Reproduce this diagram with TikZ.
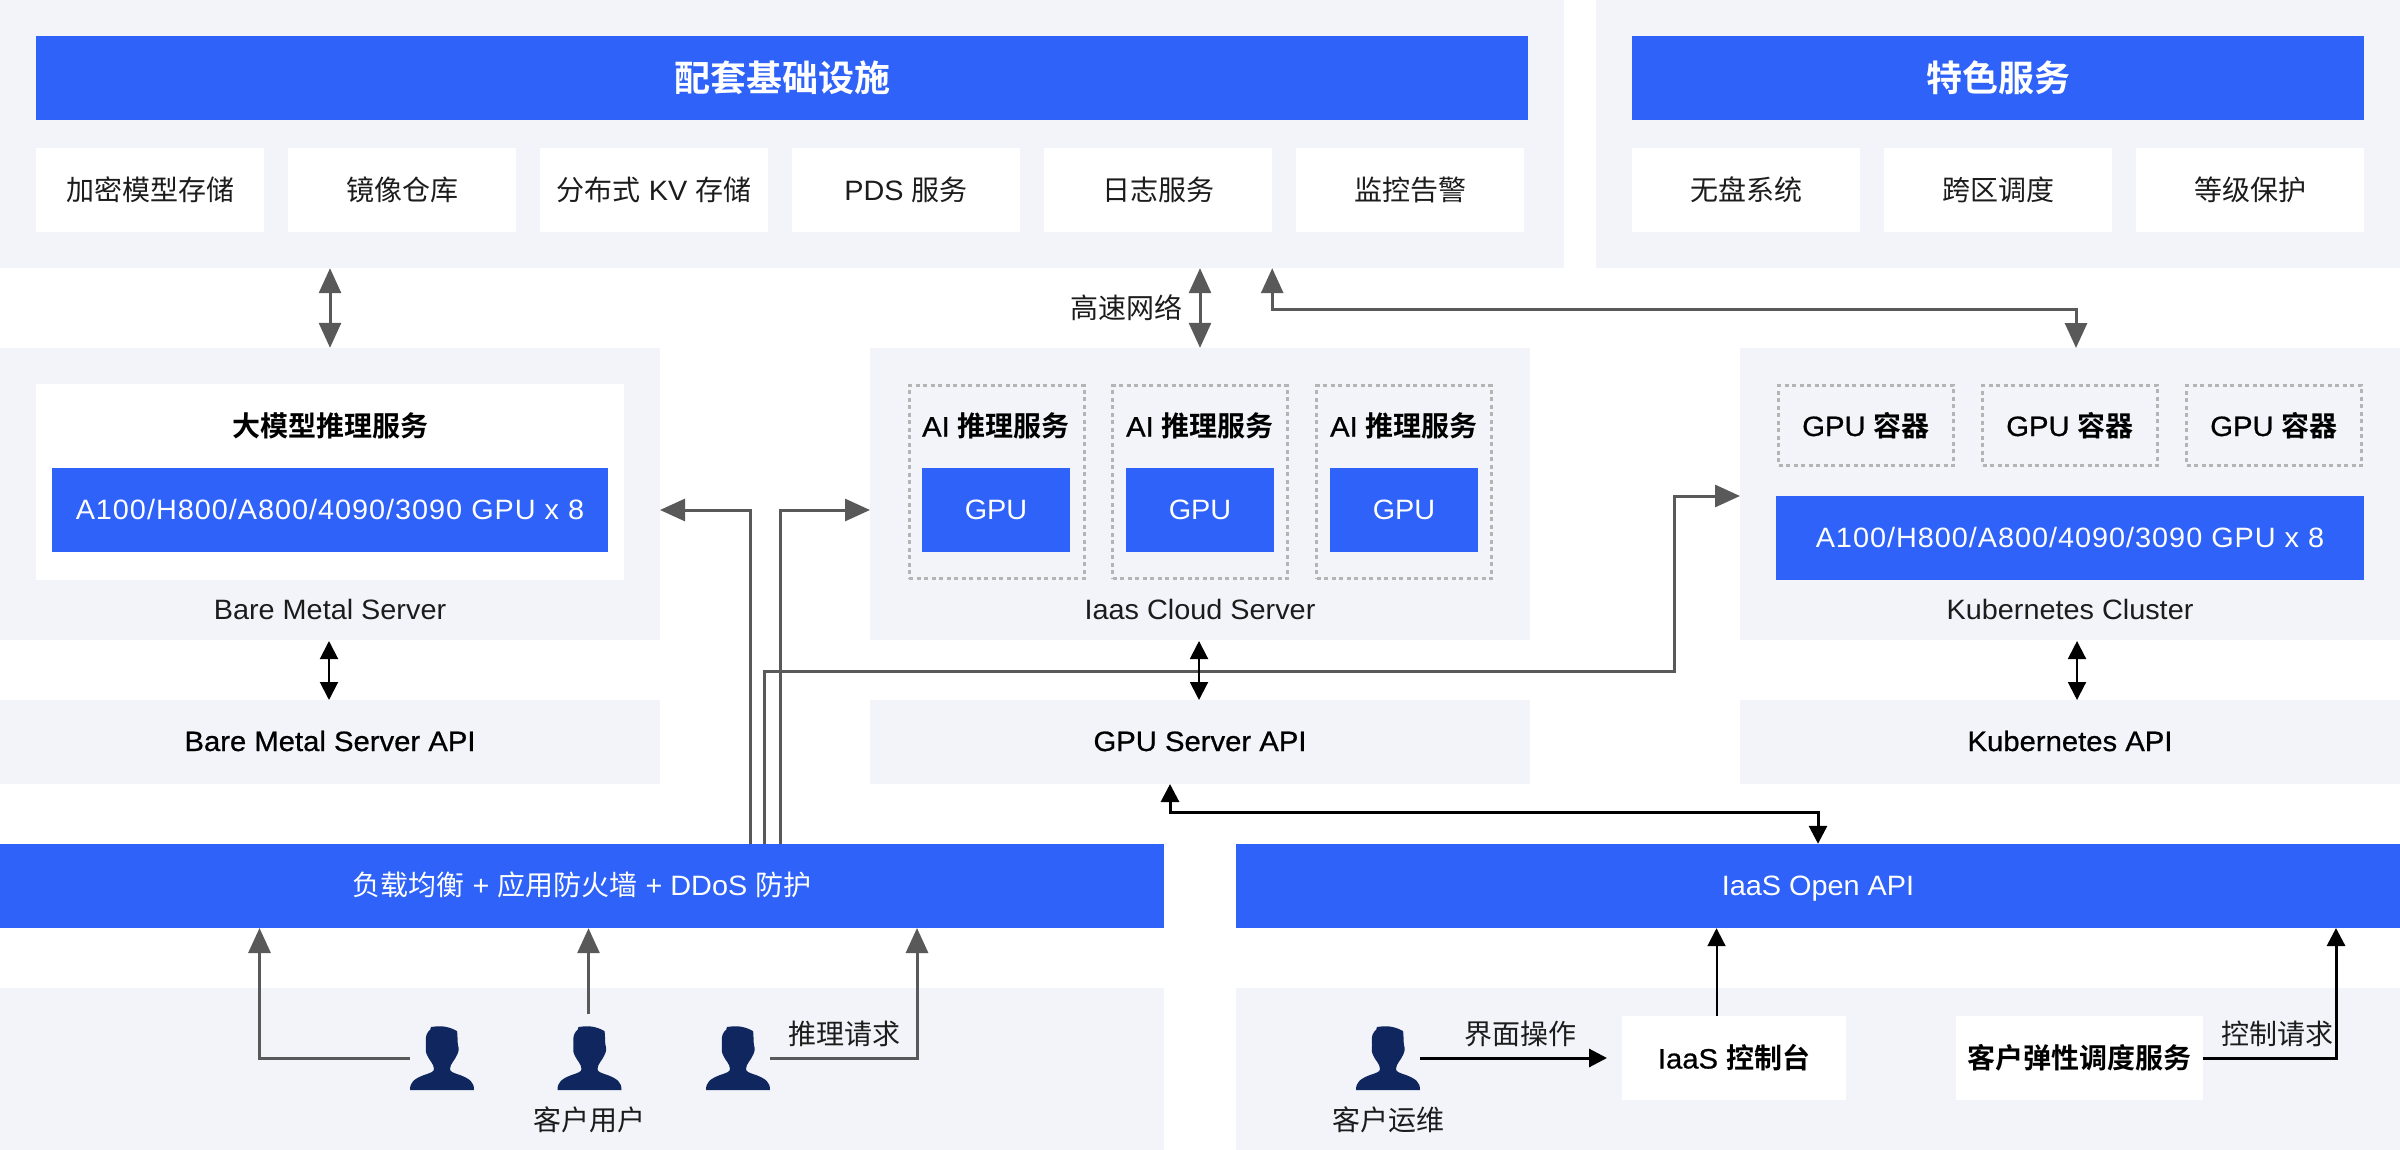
\documentclass[tikz,border=0pt]{standalone}
\usepackage{fontspec}
\setmainfont[FakeStretch=1.03]{Liberation Sans}
\newfontfamily\latinmed[FakeBold=0.7,FakeStretch=1.045]{Liberation Sans}
\newfontfamily\cjk{Noto Sans CJK SC}
\newfontfamily\cjkmed{Noto Sans CJK SC Medium}
\newfontfamily\cjkbold{Noto Sans CJK SC Bold}
\newcommand{\zh}[1]{{\cjk #1}}
\newcommand{\zm}[1]{{\cjkmed #1}}
\newcommand{\zb}[1]{{\cjkbold #1}}
\usetikzlibrary{arrows.meta}
\definecolor{panelgray}{HTML}{F2F4F9}
\definecolor{mainblue}{HTML}{2E62F8}
\definecolor{linegray}{HTML}{595959}
\definecolor{dashgray}{HTML}{B4B4B4}
\definecolor{personblue}{HTML}{10265F}
\definecolor{textdark}{HTML}{1C1C1C}
\tikzset{
	txt/.style={font=\fontsize{28}{34}\selectfont,text=textdark,inner sep=0pt,text height=23pt,text depth=5pt},
	med/.style={font=\fontsize{28}{34}\selectfont\latinmed,text=black,inner sep=0pt,text height=23pt,text depth=5pt},
	cnline/.style={text height=24.5pt,text depth=3.5pt},
	titlebar/.style={font=\fontsize{36}{40}\selectfont,text height=31.5pt,text depth=4.5pt},
	panel/.style={fill=panelgray,inner sep=0pt,minimum width=#1},
	whitebox/.style={fill=white,txt,cnline,minimum width=228pt,minimum height=84pt},
	bluebar/.style={fill=mainblue,txt,text=white,minimum width=#1,minimum height=84pt},
	dashbox/.style={draw=dashgray,line width=3pt,dash pattern=on 4pt off 3.5pt,inner sep=0pt,minimum width=175pt},
	graylink/.style={draw=linegray,line width=3pt,{Triangle[length=25pt,width=22pt]}-{Triangle[length=25pt,width=22pt]}},
	grayto/.style={draw=linegray,line width=3pt,-{Triangle[length=25pt,width=22pt]}},
	blacklink/.style={draw=black,line width=2pt,{Triangle[length=18pt,width=18pt]}-{Triangle[length=18pt,width=18pt]}},
	blackto/.style={draw=black,line width=2pt,-{Triangle[length=18pt,width=18pt]}},
	person/.pic={
		\fill[personblue] (-32,32) .. controls (-32,24) and (-28,21) .. (-18,17)
			.. controls (-12,15) and (-8,14) .. (-8,11)
			.. controls (-8,6) and (-13,2) .. (-15,-3)
			.. controls (-17,-7) and (-16,-10) .. (-16,-13)
			.. controls (-16,-18) and (-17,-22) .. (-14,-26)
			.. controls (-12,-28) and (-11,-29) .. (-11,-31)
			.. controls (-4,-32) and (4,-33) .. (15,-27)
			.. controls (16,-23) and (15,-18) .. (16,-13)
			.. controls (17,-9) and (17,-7) .. (15,-3)
			.. controls (13,2) and (8,6) .. (8,11)
			.. controls (8,14) and (12,15) .. (18,17)
			.. controls (28,21) and (32,24) .. (32,32) -- cycle;
	},
}
\begin{document}
\begin{tikzpicture}[x=1pt,y=-1pt]
	\useasboundingbox (0,0) rectangle (2400,1150);
	% top panels
	\node[panel=1564pt,minimum height=268pt] (infra) at (782,134) {};
	\node[panel=804pt,minimum height=268pt] (special) at (1998,134) {};
	\node[bluebar=1492pt,titlebar] (infratitle) at (782,78) {\zb{配套基础设施}};
	\node[bluebar=732pt,titlebar] (specialtitle) at (1998,78) {\zb{特色服务}};
	\node[whitebox] (store) at (150,190) {\zh{加密模型存储}};
	\node[whitebox] (mirror) at (402,190) {\zh{镜像仓库}};
	\node[whitebox] (kv) at (654,190) {\zh{分布式} KV \zh{存储}};
	\node[whitebox] (pds) at (906,190) {PDS \zh{服务}};
	\node[whitebox] (log) at (1158,190) {\zh{日志服务}};
	\node[whitebox] (alarm) at (1410,190) {\zh{监控告警}};
	\node[whitebox] (diskless) at (1746,190) {\zh{无盘系统}};
	\node[whitebox] (zone) at (1998,190) {\zh{跨区调度}};
	\node[whitebox] (level) at (2250,190) {\zh{等级保护}};
	% bare metal
	\node[panel=660pt,minimum height=292pt] (bm) at (330,494) {};
	\node[fill=white,minimum width=588pt,minimum height=196pt] (bmwhite) at (330,482) {};
	\node[med,cnline] (bmtitle) at (330,426) {\zb{大模型推理服务}};
	\node[bluebar=556pt] (bmgpu) at (330,510) {\addfontfeatures{LetterSpace=3.5}A100/H800/A800/4090/3090 GPU x 8};
	\node[txt] (bmlabel) at (330,610) {Bare Metal Server};
	\node[panel=660pt,minimum height=84pt,med] (bmapi) at (330,742) {Bare Metal Server API};
	% cloud server
	\node[panel=660pt,minimum height=292pt] (cloud) at (1200,494) {};
	\node[dashbox,minimum height=193pt] (aione) at (996.5,482) {};
	\node[dashbox,minimum height=193pt] (aitwo) at (1200,482) {};
	\node[dashbox,minimum height=193pt] (aithree) at (1404,482) {};
	\node[med,cnline] (aionetxt) at (996,426) {AI \zb{推理服务}};
	\node[med,cnline] (aitwotxt) at (1200,426) {AI \zb{推理服务}};
	\node[med,cnline] (aithreetxt) at (1404,426) {AI \zb{推理服务}};
	\node[bluebar=148pt] (gpuone) at (996,510) {GPU};
	\node[bluebar=148pt] (gputwo) at (1200,510) {GPU};
	\node[bluebar=148pt] (gputhree) at (1404,510) {GPU};
	\node[txt] (cloudlabel) at (1200,610) {Iaas Cloud Server};
	\node[panel=660pt,minimum height=84pt,med] (gpuapi) at (1200,742) {GPU Server API};
	% kubernetes
	\node[panel=660pt,minimum height=292pt] (kube) at (2070,494) {};
	\node[dashbox,minimum height=80pt,med,cnline] (podone) at (1866,425.5) {GPU \zb{容器}};
	\node[dashbox,minimum height=80pt,med,cnline] (podtwo) at (2070,425.5) {GPU \zb{容器}};
	\node[dashbox,minimum height=80pt,med,cnline] (podthree) at (2274,425.5) {GPU \zb{容器}};
	\node[bluebar=588pt] (kubegpu) at (2070,538) {\addfontfeatures{LetterSpace=3.5}A100/H800/A800/4090/3090 GPU x 8};
	\node[txt] (kubelabel) at (2070,610) {Kubernetes Cluster};
	\node[panel=660pt,minimum height=84pt,med] (kubeapi) at (2070,742) {Kubernetes API};
	% lower part
	\node[bluebar=1164pt] (lb) at (582,886) {\zh{负载均衡} + \zh{应用防火墙} + DDoS \zh{防护}};
	\node[bluebar=1164pt] (openapi) at (1818,886) {IaaS Open API};
	\node[panel=1164pt,minimum height=162pt] (users) at (582,1069) {};
	\node[panel=1164pt,minimum height=162pt] (ops) at (1818,1069) {};
	\node[minimum size=64pt,inner sep=0pt] (userone) at (442,1058) {};
	\node[minimum size=64pt,inner sep=0pt] (usertwo) at (589.5,1058) {};
	\node[minimum size=64pt,inner sep=0pt] (userthree) at (738,1058) {};
	\node[minimum size=64pt,inner sep=0pt] (opsuser) at (1388,1058) {};
	\pic at (userone) {person};
	\pic at (usertwo) {person};
	\pic at (userthree) {person};
	\pic at (opsuser) {person};
	\node[txt,cnline] (userlabel) at (589,1120) {\zh{客户用户}};
	\node[txt,cnline] (opslabel) at (1388,1120) {\zh{客户运维}};
	\node[fill=white,med,cnline,minimum width=224pt,minimum height=84pt] (console) at (1734,1058) {IaaS \zb{控制台}};
	\node[fill=white,med,cnline,minimum width=247pt,minimum height=84pt] (elastic) at (2079.5,1058) {\zb{客户弹性调度服务}};
	% free ends
	\coordinate (kubetop) at (2076,348);
	\coordinate (lbleft) at (750,844);
	\coordinate (lbright) at (780,844);
	\coordinate (lbmid) at (764,844);
	\coordinate (bmside) at (660,510);
	\coordinate (cloudside) at (870,510);
	\coordinate (kubeside) at (1740,496);
	\coordinate (apibottom) at (1170,784);
	\coordinate (userfoot) at (588.5,1014);
	\coordinate (consoletop) at (1716.5,1016);
	\coordinate (consoleleft) at (1607,1058);
	% gray connectors
	\draw[graylink] (bm.north) -- (bm.north |- infra.south);
	\draw[graylink] (cloud.north) -- (cloud.north |- infra.south);
	\node[txt,cnline] (netlabel) at (1126,308) {\zh{高速网络}};
	\draw[graylink] (log.east |- infra.south) |- (kubetop |- 0,309) -- (kubetop);
	\draw[grayto] (lbleft) |- (bmside);
	\draw[grayto] (lbright) |- (cloudside);
	\draw[grayto] (lbmid) |- (1674,671) -- (1674,496) -- (kubeside);
	\draw[grayto] (userone.west) -- (259.5,1058) -- (259.5,928);
	\draw[grayto] (userfoot) -- (userfoot |- lb.south);
	\draw[grayto] (userthree.east) -- (917,1058) -- (917,928);
	\node[txt,cnline] (reqlabel) at (844,1034) {\zh{推理请求}};
	% black connectors
	\draw[blacklink] (329,641) -- (329,700);
	\draw[blacklink] (1199,641) -- (1199,700);
	\draw[blacklink] (2077,641) -- (2077,700);
	\draw[blacklink,line width=3pt] (apibottom) |- (1818,812) -- (openapi.north);
	\draw[blackto,line width=3pt] (opsuser.east) -- (consoleleft);
	\node[txt,cnline] (uilabel) at (1520,1034) {\zh{界面操作}};
	\draw[blackto] (consoletop) -- (consoletop |- openapi.south);
	\draw[blackto,line width=3pt] (elastic.east) -- (2336,1058) -- (2336,928);
	\node[txt,cnline] (ctrllabel) at (2277.5,1034) {\zh{控制请求}};
\end{tikzpicture}
\end{document}
